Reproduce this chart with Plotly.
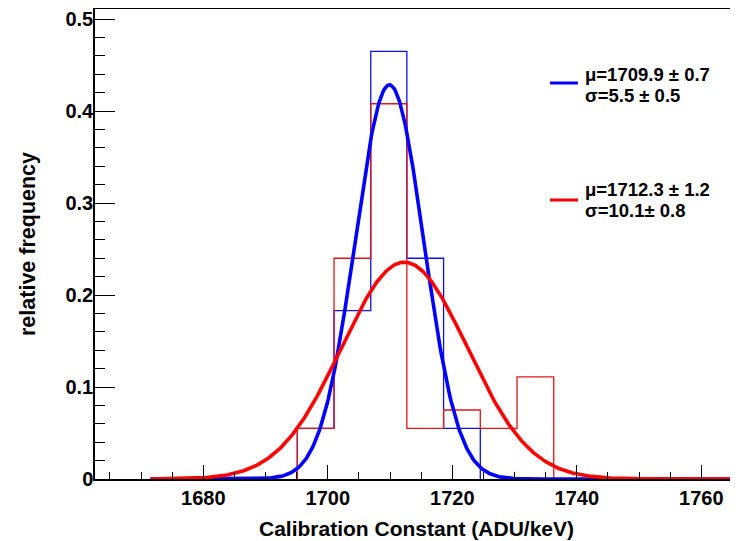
import numpy as np
import plotly.graph_objects as go

# ---- data ----
bin_edges = [1695.1, 1701.0, 1706.9, 1712.7, 1718.6, 1724.5, 1730.4, 1736.3]
red_freq = [0.055, 0.240, 0.408, 0.055, 0.075, 0.055, 0.111]
blue_freq = [0.055, 0.183, 0.465, 0.240, 0.055]

# Gaussian fit parameters (mean, sigma, peak height)
blue_fit = {"mu": 1709.9, "sigma": 5.5, "peak": 0.4285}
red_fit = {"mu": 1712.3, "sigma": 10.1, "peak": 0.2357}
fit_range = [1671.5, 1766.0]

blue_label = ["\u03bc=1709.9 \u00b1 0.7", "\u03c3=5.5 \u00b1 0.5"]
red_label = ["\u03bc=1712.3 \u00b1 1.2", "\u03c3=10.1\u00b1 0.8"]

x_tick_vals = [1680, 1700, 1720, 1740, 1760]
y_tick_vals = [0, 0.1, 0.2, 0.3, 0.4, 0.5]


def step_xy(edges, vals):
    xs = [edges[0]] + list(edges[: len(vals) + 1])
    ys = [0] + list(vals) + [0]
    return xs, ys


def gauss(p, x):
    return p["peak"] * np.exp(-0.5 * ((x - p["mu"]) / p["sigma"]) ** 2)


fig = go.Figure()

bx, by = step_xy(bin_edges, blue_freq)
fig.add_trace(go.Scatter(x=bx, y=by, mode="lines", line=dict(color="#1010e0", width=1.3, shape="hv"),
                         showlegend=False, hoverinfo="skip"))
rx, ry = step_xy(bin_edges, red_freq)
fig.add_trace(go.Scatter(x=rx, y=ry, mode="lines", line=dict(color="#e01818", width=1.3, shape="hv"),
                         showlegend=False, hoverinfo="skip"))

xf = np.linspace(fit_range[0], fit_range[1], 600)
fig.add_trace(go.Scatter(x=xf, y=gauss(blue_fit, xf), mode="lines", line=dict(color="#0000ff", width=3.6),
                         showlegend=False))
fig.add_trace(go.Scatter(x=xf, y=gauss(red_fit, xf), mode="lines", line=dict(color="#ff0000", width=3.6),
                         showlegend=False))

FONT = "Liberation Sans, Arial, Helvetica, sans-serif"

# page body has an 8px margin; figure is sized so it fills the 738x541 window
fig.update_layout(
    width=730, height=533,
    margin=dict(l=87, r=0, t=1, b=62, autoexpand=False),
    paper_bgcolor="white", plot_bgcolor="white",
    font=dict(family=FONT, color="black", size=20, weight="bold"),
    showlegend=False,
)

fig.update_xaxes(
    range=[1662.6, 1765.9],
    tickvals=x_tick_vals,
    automargin=False,
    ticks="inside", ticklen=14, tickwidth=1.3, tickcolor="black",
    minor=dict(dtick=5, tick0=1680, ticks="inside", ticklen=7, tickwidth=1.3, tickcolor="black", showgrid=False),
    showline=True, linecolor="black", linewidth=1.5, mirror=True,
    showgrid=False, zeroline=False,
    tickfont=dict(size=20, family=FONT, weight="bold"),
    title=dict(text="Calibration Constant (ADU/keV)", font=dict(size=21, family=FONT, weight="bold"), standoff=14),
)
fig.update_yaxes(
    range=[0, 0.511],
    tickvals=y_tick_vals,
    automargin=False,
    ticks="inside", ticklen=20, tickwidth=1.3, tickcolor="black",
    minor=dict(dtick=0.02, tick0=0, ticks="inside", ticklen=10, tickwidth=1.3, tickcolor="black", showgrid=False),
    showline=True, linecolor="black", linewidth=1.5, mirror=False,
    showgrid=False, zeroline=False,
    ticklabelstandoff=-4,
    tickfont=dict(size=20, family=FONT, weight="bold"),
    title=dict(text="relative frequency", font=dict(size=21.5, family=FONT, weight="bold"), standoff=24),
)

# legend built from shapes and annotations (paper coordinates)
x0p, x1p = (550 - 95) / 643, (578 - 95) / 643
txp = (583 - 95) / 643


def ypap(py):
    return (479 - py) / 470


fig.add_shape(type="line", xref="paper", yref="paper", x0=x0p, x1=x1p, y0=ypap(83), y1=ypap(83),
              line=dict(color="#0000ff", width=3))
fig.add_shape(type="line", xref="paper", yref="paper", x0=x0p, x1=x1p, y0=ypap(200), y1=ypap(200),
              line=dict(color="#ff0000", width=3))
for txt, py in [(blue_label[0], 74), (blue_label[1], 95), (red_label[0], 189), (red_label[1], 210)]:
    fig.add_annotation(text=txt, xref="paper", yref="paper", x=txp, y=ypap(py), xanchor="left",
                       yanchor="middle", showarrow=False,
                       font=dict(size=18.5, family=FONT, weight="bold", color="black"))

fig.write_html("out.html")
